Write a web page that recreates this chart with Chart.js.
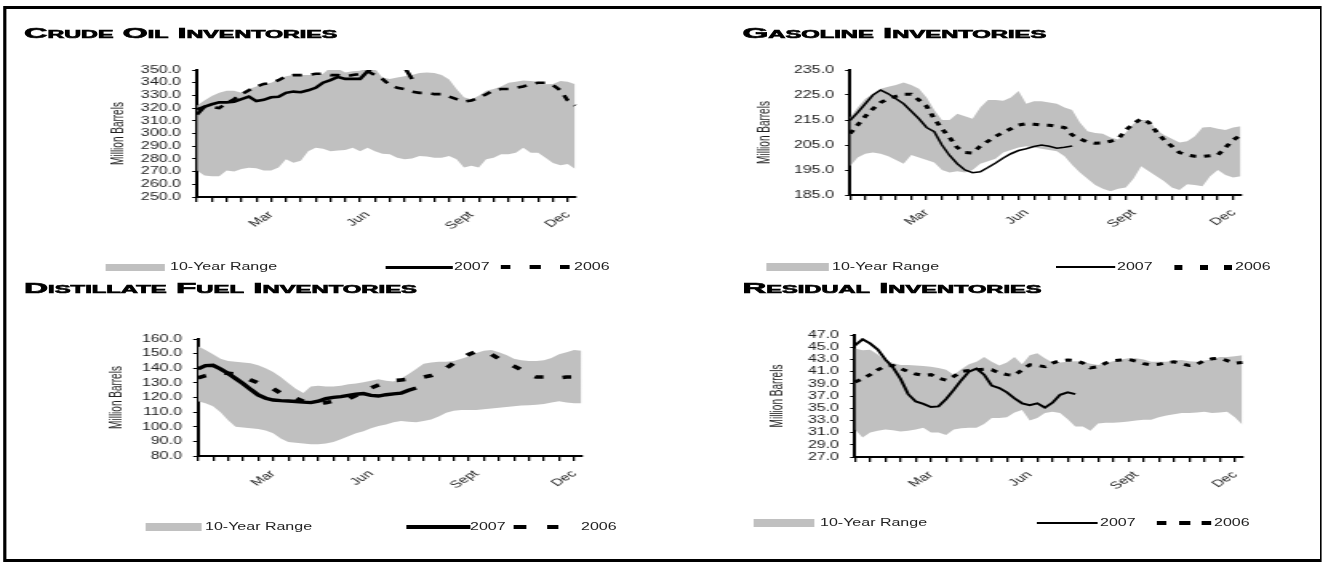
<!DOCTYPE html>
<html><head><meta charset="utf-8">
<script src="https://cdn.jsdelivr.net/npm/chart.js@4.4.1/dist/chart.umd.min.js"></script>
<style>
html,body{margin:0;padding:0;background:#fff;overflow:hidden;width:1327px;height:564px;}
#stage{position:absolute;left:0;top:0;width:830px;height:564px;transform:scaleX(1.6);transform-origin:0 0;font-family:'Liberation Sans',Arial,sans-serif;}
#frame{position:absolute;box-sizing:border-box;border-style:solid;border-color:#000;}
.ttl{position:absolute;white-space:nowrap;font-weight:bold;font-size:14px;line-height:14px;font-variant:small-caps;-webkit-text-stroke:0.6px #000;color:#000;transform-origin:0 0;}
.lg{position:absolute;white-space:nowrap;font-size:10px;line-height:10px;color:#222;}
.bx{position:absolute;}
canvas{position:absolute;}
</style></head><body><div id="stage"><div id="frame"></div></div>
<script>
// ---------- data ----------
const tickLabels = ['','','','','','','','','','','Mar','','','','','','','','','','','','','Jun','','','','','','','','','','','','','','Sept','','','','','','','','','','','','','Dec',''];
const seriesNames = ['10-Year Range', '2007', '2006'];
const yTitle = 'Million Barrels';
const panelTitles = ['Crude Oil Inventories', 'Gasoline Inventories', 'Distillate Fuel Inventories', 'Residual Inventories'];

const crudeAxis = [250, 350, 10];
const crudeHigh = [322,326,329.5,332,333.6,333.6,332,335,337,339,340,342.6,345,346,346,346,346,347,352,351,348,349,349.5,352,351,344,343,344,345,346,347.7,348,347.7,346,342.6,335,328.5,327,329.7,333.6,335,337,340,340.8,341.8,341.3,340.8,338.7,339,341.3,340.8,338.7];
const crudeLow = [270.8,267,266.4,266.4,270.8,270,272,273,272.6,270.8,270.8,273.3,279.7,277,278.5,286,288.7,288,286,286.7,287,288.7,286,288.7,286,284,283.6,281,279.7,280.3,282.3,281.8,281,281,282.3,279.7,273.3,274.6,273.3,279.7,281,283.6,283.6,284.9,288.7,284.9,284.9,281,276.7,275,275.9,272];
const crude2007 = [315,321,323,324.5,324.5,325,327,329,325.5,326.5,328.5,329,332,333,332.5,334,336,340,342,344.5,343,343,343,349,353,354,355,355,352,343];
const crude2006 = [319,321,321,320,324,327,331,334,337,339,340,342,345,346,346,346,347,347,346,346,345,346,347,349,346,343,338,336,335,333,332,332,331,331,329,327,325,326,328,331,334,335,335,336,337,339,340,340,338,334,326,322];

const gasAxis = [185, 235, 10];
const gasHigh = [216,220,223.5,225.5,227.5,228.3,229,230,229,227.5,224,219,215,215,217.5,216.5,215.5,220,223,223,222.7,224,226.6,221.5,222.5,222.5,222,221.5,220,219,214,210.5,209.8,209.5,208,207.2,210,213.5,215,215,211,209,207.5,206,206.5,208.5,212,212.2,211.5,211,212,212.5];
const gasLow = [196.5,200,201.5,202,201.5,200.5,199,197.5,201,200,199,198,195,194,194.5,194,195,197.5,198.5,199.5,202,203,204,204.5,204,203.5,203,202.5,200.5,197,194,191.5,189,187.5,186.5,187.5,188,191.5,196.5,194.5,192.5,190.5,188,187,189.3,189,188.5,192.5,195,193,192,192.5];
const gas2007 = [214.8,218,221.5,225,227,225.5,223.5,221.5,218.5,215.5,212,210.3,205,200.8,197.5,195,193.9,194.3,196,197.8,199.8,201.5,202.8,203.5,204.4,205,204.5,203.7,204.1,204.6];
const gas2006 = [209.6,213,216.5,219.5,222,223.5,224.5,225.3,225.3,223,220.5,215.5,211.5,208,204,202,201.8,204.5,206.5,208.5,210,211.5,213,213.5,213.3,213,212.9,212.5,212,209,207.5,206.2,205.7,205.8,206.5,207.5,211,213.5,215.5,214,210.3,207,204.5,202,201,200.5,200.4,200.7,201,204,207,209];

const distAxis = [80, 160, 10];
const distHigh = [155,152.5,149.5,146.5,145,144.5,144,143.5,142,140,137.5,134,130,126,123,127.5,128,127.5,127.5,128,129,129.5,130.5,131.5,132.4,131.5,131,133,136,139.5,143,144,144.5,144.5,145,146.5,148,150.5,152,152.4,151,149,146.5,145.5,145,145,145.5,147,149.5,151,152.5,152];
const distLow = [117.5,116,114,110,104.5,100,99.5,99,98.5,97.5,95.5,92,89.5,89,88.5,88,88,88.5,89.5,91.5,93.5,95.5,97,99,100.5,101.5,103,104,103.5,103,104,105,107,109.5,111,111.5,111.5,111.5,112,112.5,113,113.5,114,114.5,114.7,115,115.5,116.5,117.5,116.5,116,116];
const dist2007 = [139.6,141.8,142,139.5,136.5,133,129.5,125.5,121.8,119.5,118.3,117.9,117.6,117.3,116.8,116.5,117.5,119.2,120.1,120.6,121.4,122.2,122.7,121.5,121,121.9,122.5,123,125,126.5];
const dist2006 = [133.5,135,136,137,136.5,136,134,132,130,128.5,126,123,121.5,119.5,117.5,116.5,116,116.5,117.5,118.5,119,121.5,125,126.5,128.5,130,131.5,132,132.5,133,134,135,137,140,143.5,146.5,149.5,151.5,151.5,149.5,146.5,144,141.5,139,135.5,134,134,133.5,133.5,134,134,134.5];

const resAxis = [27, 47, 2];
const resHigh = [44.8,44.5,44.6,43.8,42.8,42.4,42.1,42.1,42,41.9,41.8,41.6,41.3,40.5,41.4,42.2,42.6,43.4,42.6,42,42.5,43.4,42.2,43.7,44,43.2,42.5,42.5,42.6,42.7,42.6,42.3,42.1,42.4,42.7,43,43.2,43.2,43,42.6,42.6,42.6,42.8,42.9,42.7,42.6,42.8,43,43.4,43.4,43.5,43.7];
const resLow = [31.5,30.2,31,31.3,31.5,31.4,31.2,31.3,31.5,31.8,31,31,30.6,31.5,31.7,31.8,31.8,32.4,33.4,33.4,33.5,34.3,34.7,33,33.4,34.2,34.4,34.2,33.2,32,32,31.3,32.5,32.6,32.6,32.7,32.8,33,33.1,33.1,33.5,33.8,34,34.2,34.2,34.3,34.4,34.2,34.3,34.4,33.5,32.3];
const res2007 = [45.3,46.3,45.6,44.6,43,41.7,39.8,37.3,36.1,35.7,35.2,35.3,36.5,38,39.6,41,41.5,40.5,38.7,38.3,37.6,36.6,35.8,35.5,35.8,35.1,35.9,37.2,37.6,37.3];
const res2006 = [39.3,39.8,40.5,41.3,41.9,42,41.5,41,40.6,40.4,40.5,39.9,39.6,40.2,41,41.2,41.3,41.4,41.3,40.8,40.5,40.4,41.3,42.1,42,41.8,42.4,42.8,42.9,42.8,42.4,41.6,41.8,42.4,42.8,42.9,43,42.7,42.3,42.1,42.2,42.5,42.6,42.3,42,42.2,42.8,43.1,43.2,42.8,42.4,42.5];

// ---------- layout (stretched page pixels) ----------
const S = 1.6;
const FONT = "'Liberation Sans', Arial, sans-serif";
const GRAY = '#c0c0c0';
const INK = '#222';
const stage = document.getElementById('stage');

const frame = document.getElementById('frame');
Object.assign(frame.style, {left:(3/S)+'px', top:'6px', width:((1322-3)/S)+'px', height:'556px', borderWidth:'3px 1px 3px 2px'});

const panels = [
  {title:panelTitles[0], tx:24, tcap:28.3, tw:314, area:[197,587,67,197], ytx:118, w07:2.6, w06:2.6, dash:[6,6],
   data:{axis:crudeAxis, high:crudeHigh, low:crudeLow, y07:crude2007, y06:crude2006},
   lg:{y:267, sw:[105,165,7], t:170, line:[385,453,3], t07:454, dashes:[[500,510],[530,540],[560,570]], dh:4, t06:574}},
  {title:panelTitles[1], tx:743, tcap:28.3, tw:304, area:[850,1252,67,195], ytx:765, w07:1.6, w06:3, dash:[4,5],
   data:{axis:gasAxis, high:gasHigh, low:gasLow, y07:gas2007, y06:gas2006},
   lg:{y:267, sw:[766,828,8], t:832, line:[1056,1115,1.5], t07:1117, dashes:[[1175,1183],[1200,1208],[1224,1232]], dh:5, t06:1235}},
  {title:panelTitles[2], tx:24, tcap:283.3, tw:393, area:[198,593,336,456], ytx:117.5, w07:3.4, w06:3.6, dash:[5.5,12],
   data:{axis:distAxis, high:distHigh, low:distLow, y07:dist2007, y06:dist2006},
   lg:{y:527, sw:[146,202,8], t:205, line:[407,470,4.5], t07:470, dashes:[[514,526],[547,559]], dh:4, t06:581}},
  {title:panelTitles[3], tx:743, tcap:283.3, tw:300, area:[855,1253,332,457], ytx:778, w07:2, w06:3, dash:[4,5],
   data:{axis:resAxis, high:resHigh, low:resLow, y07:res2007, y06:res2006},
   lg:{y:523, sw:[754,815,8], t:820, line:[1037,1098,1.5], t07:1100, dashes:[[1156,1166],[1179,1190],[1201,1211]], dh:4, t06:1214}}
];

function box(x1, x2, yc, h, color) {
  const d = document.createElement('div'); d.className = 'bx';
  Object.assign(d.style, {left:(x1/S)+'px', width:((x2-x1)/S)+'px', top:(yc-h/2)+'px', height:h+'px', background:color});
  stage.appendChild(d);
}
function label(txt, x, yc) {
  const d = document.createElement('div'); d.className = 'lg'; d.textContent = txt;
  Object.assign(d.style, {left:(x/S)+'px', top:(yc-5)+'px'});
  stage.appendChild(d);
}
function makeTitle(p) {
  const el = document.createElement('div'); el.className = 'ttl'; el.textContent = p.title;
  el.style.left = (p.tx/S)+'px'; el.style.top = (p.tcap-1.9)+'px';
  stage.appendChild(el);
  const w = el.offsetWidth;
  el.style.transform = 'scaleX(' + ((p.tw/S)/w).toFixed(4) + ')';
}
function makeLegend(g) {
  box(g.sw[0], g.sw[1], g.y, g.sw[2], GRAY);
  label(seriesNames[0], g.t, g.y);
  box(g.line[0], g.line[1], g.y, g.line[2], '#000');
  label(seriesNames[1], g.t07, g.y);
  g.dashes.forEach(d => box(d[0], d[1], g.y, g.dh, '#000'));
  label(seriesNames[2], g.t06, g.y);
}
function makeChart(p) {
  const d = p.data;
  const Lu = p.area[0]/S, Ru = p.area[1]/S, T = p.area[2], B = p.area[3];
  const padTop = 10, xH = 45;
  const left = Math.floor(Lu - 62);
  const yW = Lu - left;
  const width = Math.ceil(Ru + 8 - left);
  const pr = width - (Ru - left);
  const top = T - padTop;
  const height = (B - T) + padTop + xH;
  const cv = document.createElement('canvas');
  cv.width = width; cv.height = height;
  Object.assign(cv.style, {left:left+'px', top:top+'px', width:width+'px', height:height+'px'});
  stage.appendChild(cv);
  const tSize = 10, lh = tSize*1.2;
  const titleLocal = p.ytx/S - left;
  new Chart(cv, {
    type:'line',
    data:{labels:tickLabels, datasets:[
      {label:seriesNames[0], data:d.high, fill:'+1', backgroundColor:GRAY, borderColor:'rgba(0,0,0,0)', borderWidth:0, pointRadius:0, order:3},
      {label:'low', data:d.low, fill:false, borderColor:'rgba(0,0,0,0)', borderWidth:0, pointRadius:0, order:4},
      {label:seriesNames[2], data:d.y06, fill:false, borderColor:'#000', borderWidth:p.w06, borderDash:p.dash, borderCapStyle:'butt', pointRadius:0, order:1},
      {label:seriesNames[1], data:d.y07, fill:false, borderColor:'#000', borderWidth:p.w07, pointRadius:0, order:0}
    ]},
    options:{
      responsive:false, animation:false, devicePixelRatio:1, events:[],
      layout:{padding:{top:padTop, right:pr, left:0, bottom:0}},
      plugins:{legend:{display:false}, tooltip:{enabled:false}, title:{display:false}},
      scales:{
        x:{type:'category', offset:false,
          grid:{drawOnChartArea:false, drawTicks:true, tickLength:5, lineWidth:1.3, color:c => (c.index % 2 === 0 ? '#000' : 'rgba(0,0,0,0)')},
          border:{display:true, color:'#000', width:2},
          ticks:{autoSkip:false, maxRotation:45, minRotation:45, padding:7, color:INK, font:{family:FONT, size:10}},
          afterFit:s => { s.height = xH; }},
        y:{min:d.axis[0], max:d.axis[1],
          ticks:{stepSize:d.axis[2], autoSkip:false, padding:7, color:INK, font:{family:FONT, size:10}, callback:v => Number(v).toFixed(1)},
          grid:{drawOnChartArea:false, drawTicks:true, tickLength:3, lineWidth:1, color:'#000'},
          border:{display:true, color:'#000', width:2},
          title:{display:true, text:yTitle, color:INK, font:{family:FONT, size:tSize}, padding:{top:titleLocal - lh/2, bottom:0}},
          afterFit:s => { s.width = yW; }}
      }
    }
  });
}
panels.forEach(p => { makeTitle(p); makeChart(p); makeLegend(p.lg); });
</script></body></html>
